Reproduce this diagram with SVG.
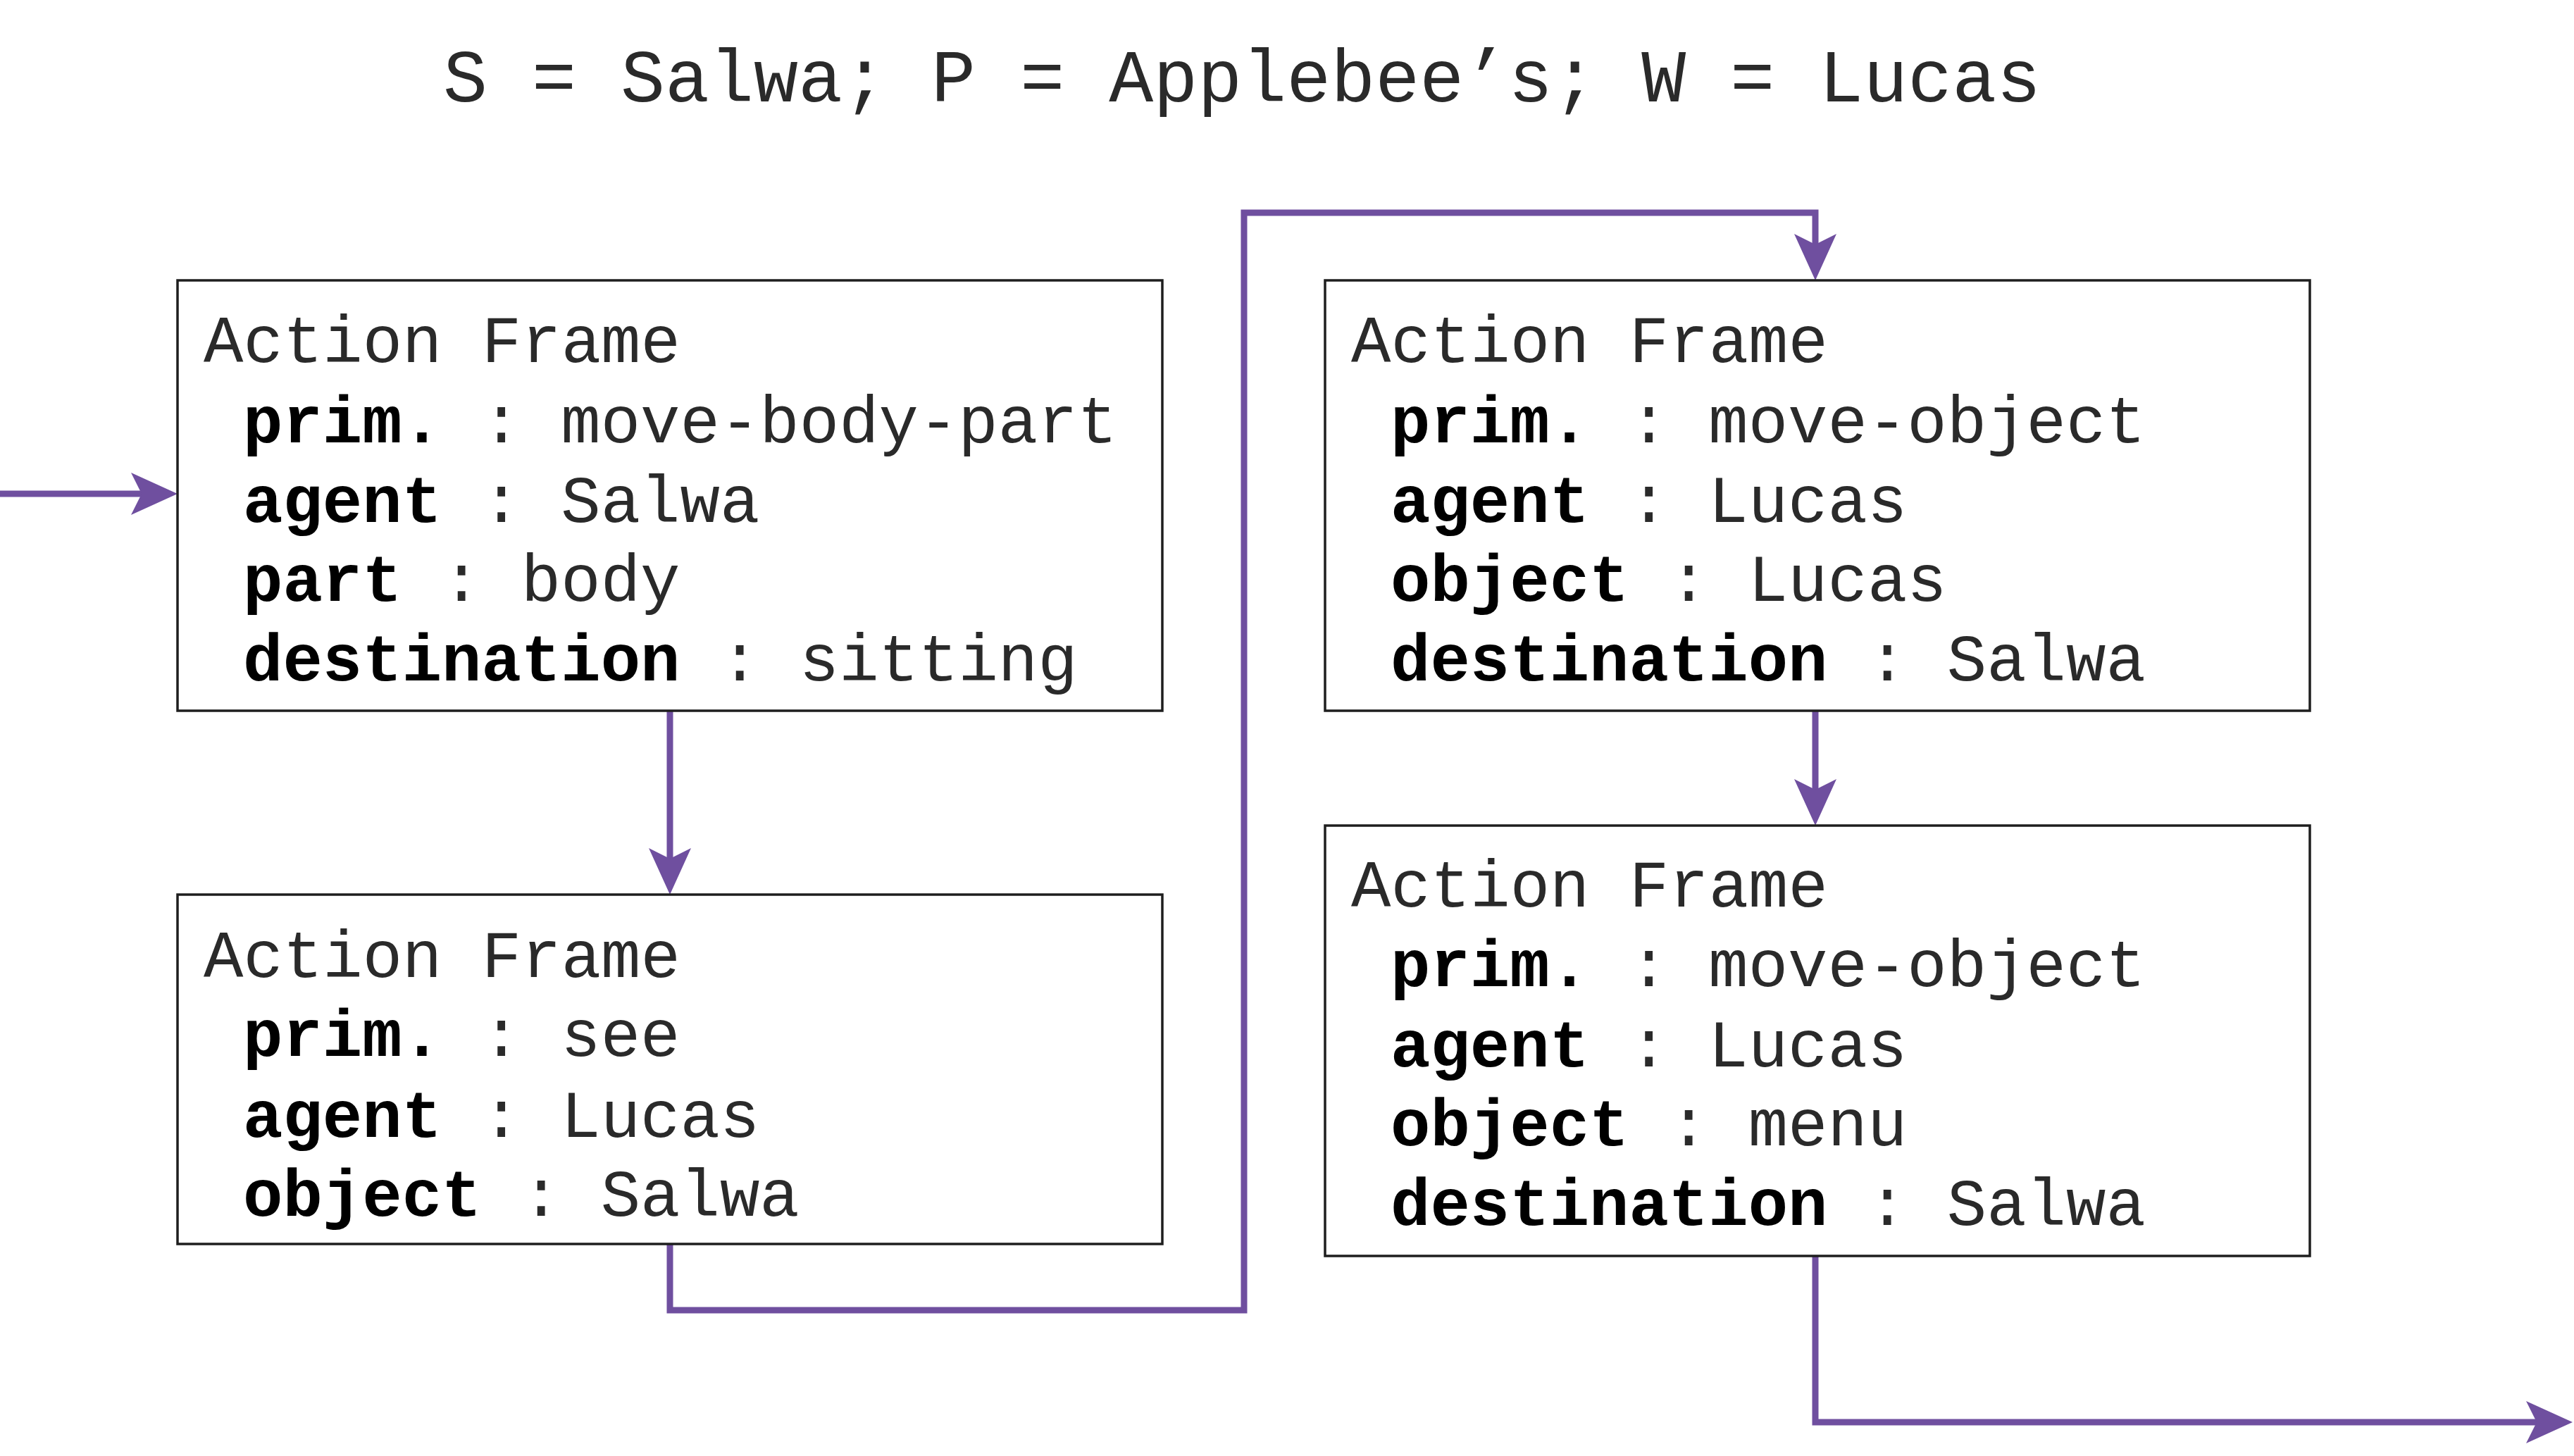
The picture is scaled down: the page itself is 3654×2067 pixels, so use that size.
<svg xmlns="http://www.w3.org/2000/svg" width="3654" height="2067" viewBox="0 0 3654 2067">
<style>
.box{fill:#fff;stroke:#1e1e1e;stroke-width:3.5}
.t{font-family:"Liberation Mono","Courier New",monospace;font-size:94px;fill:#2a2a2a}
.k{font-weight:bold;fill:#000}
.title{font-family:"Liberation Mono","Courier New",monospace;font-size:105px;fill:#2a2a2a}
.c{fill:none;stroke:#6f4f9f;stroke-width:9;stroke-linejoin:miter}
</style>
<defs>
<marker id="ah" markerUnits="userSpaceOnUse" markerWidth="80" markerHeight="70" refX="46" refY="30" orient="auto" viewBox="0 0 80 70">
<path d="M0,0 L66,30 L0,60 L15,30 Z" fill="#6f4f9f"/>
</marker>
</defs>
<rect width="3654" height="2067" fill="#fff"/>
<text class="title" x="629" y="144">S = Salwa; P = Applebee’s; W = Lucas</text>
<g id="connectors">
<path class="c" d="M0,701 L232,701" marker-end="url(#ah)"/>
<path class="c" d="M951,1009 L951,1250" marker-end="url(#ah)"/>
<path class="c" d="M951,1766 L951,1860 L1766,1860 L1766,302 L2577,302 L2577,378" marker-end="url(#ah)"/>
<path class="c" d="M2577,1009 L2577,1152" marker-end="url(#ah)"/>
<path class="c" d="M2577,1783 L2577,2019 L3632,2019" marker-end="url(#ah)"/>
</g>
<g id="frame1">
<rect class="box" x="252" y="398" width="1398" height="611"/>
<text class="t" x="289" y="514">Action Frame</text>
<text class="t" x="345" y="628"><tspan class="k">prim.</tspan> : move-body-part</text>
<text class="t" x="345" y="741"><tspan class="k">agent</tspan> : Salwa</text>
<text class="t" x="345" y="853"><tspan class="k">part</tspan> : body</text>
<text class="t" x="345" y="966"><tspan class="k">destination</tspan> : sitting</text>
</g>
<g id="frame2">
<rect class="box" x="252" y="1270" width="1398" height="496"/>
<text class="t" x="289" y="1387">Action Frame</text>
<text class="t" x="345" y="1499"><tspan class="k">prim.</tspan> : see</text>
<text class="t" x="345" y="1614"><tspan class="k">agent</tspan> : Lucas</text>
<text class="t" x="345" y="1726"><tspan class="k">object</tspan> : Salwa</text>
</g>
<g id="frame3">
<rect class="box" x="1881" y="398" width="1398" height="611"/>
<text class="t" x="1918" y="514">Action Frame</text>
<text class="t" x="1974" y="628"><tspan class="k">prim.</tspan> : move-object</text>
<text class="t" x="1974" y="741"><tspan class="k">agent</tspan> : Lucas</text>
<text class="t" x="1974" y="853"><tspan class="k">object</tspan> : Lucas</text>
<text class="t" x="1974" y="966"><tspan class="k">destination</tspan> : Salwa</text>
</g>
<g id="frame4">
<rect class="box" x="1881" y="1172" width="1398" height="611"/>
<text class="t" x="1918" y="1287">Action Frame</text>
<text class="t" x="1974" y="1400"><tspan class="k">prim.</tspan> : move-object</text>
<text class="t" x="1974" y="1514"><tspan class="k">agent</tspan> : Lucas</text>
<text class="t" x="1974" y="1626"><tspan class="k">object</tspan> : menu</text>
<text class="t" x="1974" y="1739"><tspan class="k">destination</tspan> : Salwa</text>
</g>
</svg>
